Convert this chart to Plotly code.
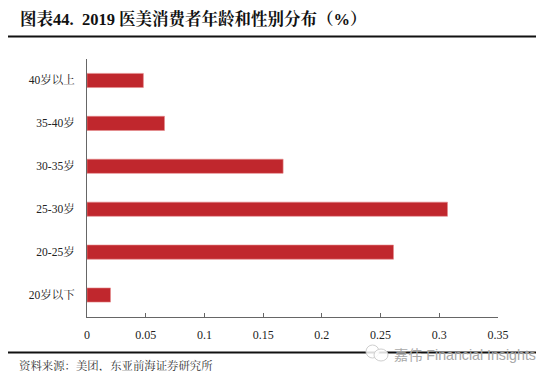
import plotly.graph_objects as go

categories = ["20岁以下", "20-25岁", "25-30岁", "30-35岁", "35-40岁", "40岁以上"]
values = [0.02, 0.261, 0.307, 0.167, 0.066, 0.048]
x_ticks = [0, 0.05, 0.1, 0.15, 0.2, 0.25, 0.3, 0.35]
x_labels = ["0", "0.05", "0.1", "0.15", "0.2", "0.25", "0.3", "0.35"]
title_text = "<b>图表44.  2019 医美消费者年龄和性别分布（%）</b>"
source_text = "资料来源：美团，东亚前海证券研究所"
watermark_text = "嘉伟 Financial Insights"

W, H = 534, 363
OFF = 8
L, R, T, B = 87, 498, 59, 316.5
FONT = "Liberation Serif, Noto Sans CJK SC, serif"
CJK = "Liberation Serif, Noto Serif CJK SC, Noto Sans CJK SC, serif"

fig = go.Figure(go.Bar(
    y=categories, x=values, orientation="h",
    marker=dict(color="#C0272D", line=dict(color="#E58A8C", width=0.6)),
    width=0.33,
))


def px(x):
    return (x - OFF) / W


def py(y):
    return 1 - (y - OFF) / H


shapes = [
    dict(type="line", xref="paper", yref="paper", x0=px(8), x1=px(536), y0=py(36.5), y1=py(36.5),
         line=dict(color="#111111", width=2)),
    dict(type="line", xref="paper", yref="paper", x0=px(8), x1=px(536), y0=py(352.5), y1=py(352.5),
         line=dict(color="#111111", width=2)),
    dict(type="circle", xref="paper", yref="paper", x0=px(366), x1=px(379), y0=py(358), y1=py(345),
         line=dict(color="#CFCFCF", width=1), fillcolor="rgba(255,255,255,0.85)"),
    dict(type="circle", xref="paper", yref="paper", x0=px(374), x1=px(388), y0=py(361), y1=py(349),
         line=dict(color="#CFCFCF", width=1), fillcolor="rgba(255,255,255,0.85)"),
]

annotations = [
    dict(text=title_text, x=px(18), y=py(19), xref="paper", yref="paper", xanchor="left", yanchor="middle",
         showarrow=False, font=dict(family=CJK, size=16.5, color="#111111")),
    dict(text=source_text, x=px(17), y=py(366), xref="paper", yref="paper", xanchor="left", yanchor="middle",
         showarrow=False, font=dict(family=CJK, size=11.4, color="#333333")),
    dict(text=watermark_text, x=px(392), y=py(354.5), xref="paper", yref="paper", xanchor="left", yanchor="middle",
         showarrow=False, font=dict(family="Liberation Sans, Noto Sans CJK SC, sans-serif", size=14.2, color="#A8A8A8")),
]

fig.update_layout(
    width=W, height=H, autosize=False,
    paper_bgcolor="white", plot_bgcolor="white", showlegend=False,
    margin=dict(l=0, r=0, t=0, b=0),
    font=dict(family=FONT, size=12, color="#222222"),
    shapes=shapes, annotations=annotations,
)
fig.update_xaxes(
    domain=[px(L), px(R)], automargin=False,
    range=[0, 0.35], tickvals=x_ticks, ticktext=x_labels, ticks="inside", ticklen=4,
    tickcolor="#666666", showline=True, linecolor="#666666", linewidth=1, showgrid=False, zeroline=False,
    tickfont=dict(size=12), ticklabelstandoff=7,
)
fig.update_yaxes(
    domain=[py(B), py(T)], automargin=False,
    showline=True, linecolor="#666666", linewidth=1, showgrid=False, zeroline=False, ticks="",
    tickfont=dict(family=CJK, size=11.5), ticklabelstandoff=9,
)

fig.write_html("out.html")
